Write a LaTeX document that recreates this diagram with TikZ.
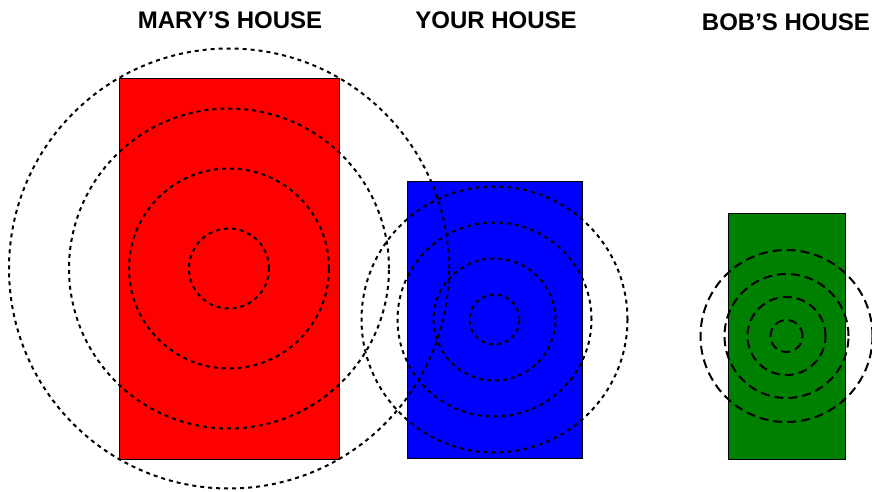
\documentclass[tikz,border=0pt]{standalone}
\usepackage{fontspec}
\setmainfont{Liberation Sans}
\definecolor{bobgreen}{RGB}{0,128,0}

\tikzset{
    house/.style={draw=black, line width=0.8pt, inner sep=0pt},
    ripple/.style={line width=2pt, dash pattern=on 4pt off 4pt},
    longripple/.style={line width=2pt, dash pattern=on 9pt off 5pt},
    title/.style={font=\bfseries\fontsize{24}{28}\selectfont}
}

\begin{document}
\begin{tikzpicture}[x=1pt,y=-1pt]
    \useasboundingbox (0,0) rectangle (872,492);

    % Houses
    \node[house, fill=red, minimum width=220pt, minimum height=381pt] (mary) at (229,268.5) {};
    \node[house, fill=blue, minimum width=175pt, minimum height=277pt] (your) at (494.5,319.5) {};
    \node[house, fill=bobgreen, minimum width=117pt, minimum height=246pt] (bob) at (786.5,336) {};

    % Titles
    \node[title] (marytitle) at (230,20) {MARY’S HOUSE};
    \node[title] (yourtitle) at (496,20) {YOUR HOUSE};
    \node[title] (bobtitle) at (786,22) {BOB’S HOUSE};

    % Ripples
    \foreach \r in {40,100,160,220}
        \draw[ripple] (mary.center) circle (\r pt);
    \foreach \r in {25,61,97,133}
        \draw[ripple] (your.center) circle (\r pt);
    \foreach \r in {16,39,62,86}
        \draw[longripple] (bob.center) circle (\r pt);
\end{tikzpicture}
\end{document}
